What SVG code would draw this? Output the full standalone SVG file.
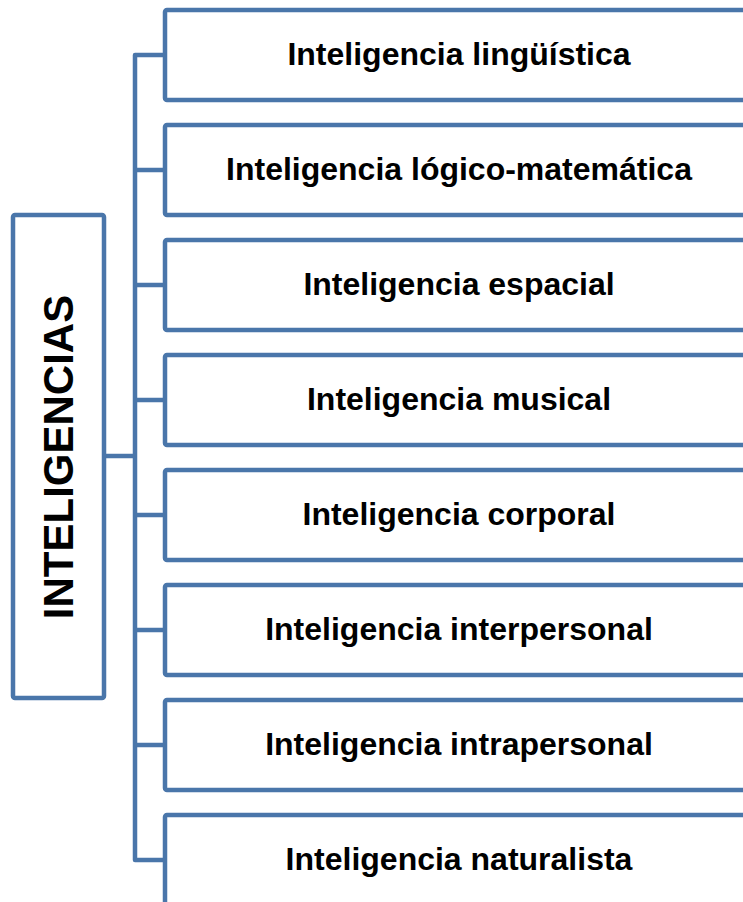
<svg xmlns="http://www.w3.org/2000/svg" width="743" height="902" viewBox="0 0 743 902">
<style>
.box{fill:#ffffff;stroke:#4a76aa;stroke-width:4.5}
.con{fill:none;stroke:#4a76aa;stroke-width:4.5;stroke-linejoin:round}
.t{font-family:"Liberation Sans",Arial,sans-serif;font-weight:bold;font-size:32px;fill:#000;text-anchor:middle}
.main{font-family:"Liberation Sans",Arial,sans-serif;font-weight:bold;font-size:42px;fill:#000;text-anchor:middle}
</style>
<rect width="743" height="902" fill="#ffffff"/>
<g id="connectors">
<path class="con" d="M165 55H135V860H165"/>
<path class="con" d="M135 170H165M135 285H165M135 400H165M135 515H165M135 630H165M135 745H165"/>
<path class="con" d="M104 456H135"/>
</g>
<g id="root">
<rect class="box" x="13" y="215" width="91" height="483" rx="2"/>
<text class="main" transform="translate(72.5 457) rotate(-90)">INTELIGENCIAS</text>
</g>
<g id="n1"><rect class="box" x="165" y="10" width="590" height="90" rx="2"/><text class="t" x="459" y="64.5">Inteligencia lingüística</text></g>
<g id="n2"><rect class="box" x="165" y="125" width="590" height="90" rx="2"/><text class="t" x="459" y="179.5">Inteligencia lógico-matemática</text></g>
<g id="n3"><rect class="box" x="165" y="240" width="590" height="90" rx="2"/><text class="t" x="459" y="294.5">Inteligencia espacial</text></g>
<g id="n4"><rect class="box" x="165" y="355" width="590" height="90" rx="2"/><text class="t" x="459" y="409.5">Inteligencia musical</text></g>
<g id="n5"><rect class="box" x="165" y="470" width="590" height="90" rx="2"/><text class="t" x="459" y="524.5">Inteligencia corporal</text></g>
<g id="n6"><rect class="box" x="165" y="585" width="590" height="90" rx="2"/><text class="t" x="459" y="639.5">Inteligencia interpersonal</text></g>
<g id="n7"><rect class="box" x="165" y="700" width="590" height="90" rx="2"/><text class="t" x="459" y="754.5">Inteligencia intrapersonal</text></g>
<g id="n8"><rect class="box" x="165" y="815" width="590" height="90" rx="2"/><text class="t" x="459" y="869.5">Inteligencia naturalista</text></g>
</svg>
